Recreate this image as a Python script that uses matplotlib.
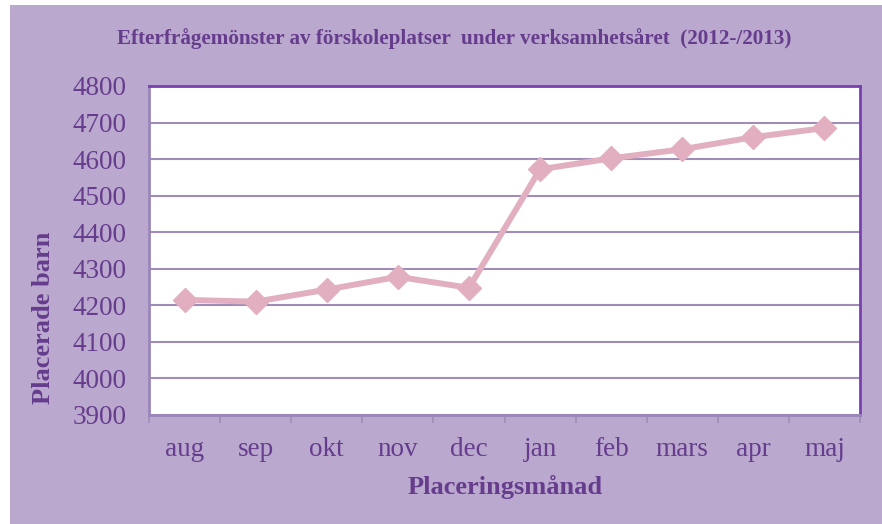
import matplotlib
matplotlib.use("Agg")
import matplotlib.pyplot as plt
from matplotlib.patches import Rectangle

months = ["aug", "sep", "okt", "nov", "dec", "jan", "feb", "mars", "apr", "maj"]
placed = [4215, 4210, 4243, 4278, 4248, 4572, 4602, 4627, 4660, 4685]
yticks = [3900, 4000, 4100, 4200, 4300, 4400, 4500, 4600, 4700, 4800]

title = "Efterfrågemönster av förskoleplatser  under verksamhetsåret  (2012-/2013)"
xlabel = "Placeringsmånad"
ylabel = "Placerade barn"

bg = "#BAA8CF"
txt = "#663C8C"
grid = "#A08CB8"
line = "#E2AFC0"

W, H = 882, 524
fig = plt.figure(figsize=(W / 100, H / 100), dpi=100)
fig.patch.set_facecolor("white")
fig.patches.append(Rectangle((10 / W, 0), 1 - 10 / W, 1 - 5 / H, transform=fig.transFigure,
                             facecolor=bg, edgecolor="none", zorder=-10))

ax = fig.add_axes([149 / W, 1 - 415 / H, (860 - 149) / W, (415 - 86) / H])
ax.set_facecolor("white")
x = list(range(len(months)))
ax.plot(x, placed, color=line, lw=4.3, marker="D", ms=12, mfc=line, mec=line, zorder=3,
        solid_joinstyle="round")
ax.set_xlim(-0.5, len(months) - 0.5)
ax.set_ylim(3900, 4800)
ax.set_yticks(yticks)
ax.yaxis.grid(True, color=grid, lw=1.5)
ax.set_axisbelow(True)
ax.set_xticks([i + 0.5 for i in range(-1, len(months))], minor=False)
ax.set_xticklabels([])
ax.set_xticks(x, minor=True)
ax.set_xticklabels(months, minor=True)
ax.tick_params(axis="x", which="major", length=6, color=grid, width=1.2, direction="out")
ax.tick_params(axis="x", which="minor", length=0, pad=16, labelsize=19.5, labelcolor=txt)
ax.tick_params(axis="y", length=0, pad=16, labelsize=19.5, labelcolor=txt)
for lab in ax.get_xticklabels(minor=True) + ax.get_yticklabels():
    lab.set_fontfamily("Liberation Serif")

ax.spines["top"].set_color("#7A3FB0")
ax.spines["top"].set_linewidth(2)
ax.spines["right"].set_color("#7A3FB0")
ax.spines["right"].set_linewidth(2)
ax.spines["left"].set_color("#9A86B8")
ax.spines["left"].set_linewidth(2)
ax.spines["bottom"].set_color("#9A86B8")
ax.spines["bottom"].set_linewidth(2)

fig.text(454 / W, 1 - 39 / H, title, ha="center", va="center", fontsize=15.2,
         fontweight="bold", color=txt, family="Liberation Serif")
fig.text(505 / W, 1 - 487 / H, xlabel, ha="center", va="center", fontsize=19,
         fontweight="bold", color=txt, family="Liberation Serif")
fig.text(44 / W, 1 - 318 / H, ylabel, ha="center", va="center", rotation=90, fontsize=19,
         fontweight="bold", color=txt, family="Liberation Serif")

fig.savefig("out.png", dpi=100, facecolor=fig.get_facecolor())
